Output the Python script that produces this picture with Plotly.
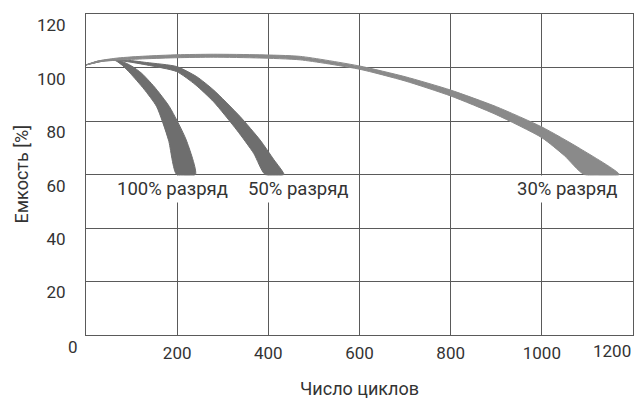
import plotly.graph_objects as go

# ---- data ----
# 100% discharge band
d100_outer_x = [0, 25, 50, 75, 100, 122, 150, 183, 220, 240]
d100_outer_y = [101, 102.4, 102.9, 102.6, 100.6, 97.9, 92.8, 85.4, 72.9, 60]
d100_inner_x = [0, 25, 50, 65, 80, 97, 127, 155, 181, 199]
d100_inner_y = [101, 102.3, 102.8, 102.6, 100.8, 97.9, 92.0, 85.4, 72.9, 60]

# 50% discharge band
d50_outer_x = [0, 40, 82, 133, 199, 243, 280, 338, 382, 412, 434]
d50_outer_y = [101, 102.6, 102.9, 101.9, 100.4, 96.6, 91.6, 81.7, 72.9, 65.6, 60]
d50_inner_x = [0, 40, 70, 133, 199, 240, 280, 331, 368, 393]
d50_inner_y = [101, 102.5, 102.7, 101.0, 98.5, 93.6, 87.2, 76.6, 67.9, 60]

# 30% discharge band
d30_upper_x = [0, 30, 70, 130, 200, 280, 380, 470, 600, 700, 800, 900, 1000, 1085, 1170]
d30_upper_y = [101, 102.6, 103.6, 104.3, 104.8, 105.0, 104.8, 104.2, 100.6, 96.6, 91.6, 85.4, 77.8, 69.6, 60]
d30_lower_x = [0, 30, 70, 130, 200, 280, 380, 470, 600, 700, 800, 900, 1000, 1050, 1093]
d30_lower_y = [101, 102.2, 102.8, 103.3, 103.7, 103.9, 103.6, 102.9, 99.4, 95.0, 89.4, 82.4, 73.8, 67.0, 60]

band_names = ["100% разряд", "50% разряд", "30% разряд"]

x_tick_vals = [200, 400, 600, 800, 1000]
x_tick_text = ["200", "400", "600", "800", "1000"]
y_tick_vals = [20, 40, 60, 80, 100, 120]
y_tick_text = ["20", "40", "60", "80", "100", "120"]
x_title = "Число циклов"
y_title = "Емкость [%]"

FONT = "Roboto"
TXT = "#333333"
GRID = "#5a5a5a"

fig = go.Figure()

bands = [
    (d100_outer_x, d100_outer_y, d100_inner_x, d100_inner_y, "#6e6e6e"),
    (d50_outer_x, d50_outer_y, d50_inner_x, d50_inner_y, "#6e6e6e"),
    (d30_upper_x, d30_upper_y, d30_lower_x, d30_lower_y, "#8a8a8a"),
]
for (ux, uy, lx, ly, col), name in zip(bands, band_names):
    fig.add_trace(go.Scatter(
        x=ux + lx[::-1], y=uy + ly[::-1],
        mode="lines", fill="toself", fillcolor=col,
        line=dict(color=col, width=1, shape="spline", smoothing=0.6),
        name=name, showlegend=False, hoverinfo="skip",
    ))

fig.update_layout(
    width=635, height=400,
    margin=dict(l=86, r=2, t=14, b=65),
    paper_bgcolor="white", plot_bgcolor="white",
    font=dict(family=FONT, size=17, color=TXT),
    showlegend=False,
    xaxis=dict(
        range=[0, 1200], tickvals=x_tick_vals, ticktext=x_tick_text,
        showgrid=True, gridcolor=GRID, gridwidth=1,
        showline=True, linecolor=GRID, linewidth=1, mirror=True,
        zeroline=False, ticks="", ticklabelstandoff=3,
        tickfont=dict(family=FONT, size=17, color=TXT),
    ),
    yaxis=dict(
        range=[0, 120.05], tickvals=y_tick_vals, ticktext=y_tick_text,
        showgrid=True, gridcolor=GRID, gridwidth=1,
        showline=True, linecolor=GRID, linewidth=1, mirror=True,
        zeroline=False, ticks="", ticklabelstandoff=16, ticklabelshift=11,
        ticklabeloverflow="allow",
        tickfont=dict(family=FONT, size=17, color=TXT),
    ),
)

# band labels (white boxes interrupt the grid lines, as in the original)
label_x = [189, 466, 1057]
for name, lx in zip(band_names, label_x):
    fig.add_annotation(
        x=lx, y=54.6, xref="x", yref="y", text=name, showarrow=False,
        font=dict(family=FONT, size=18.5, color=TXT),
        bgcolor="white", borderpad=2,
    )

# corner tick labels
fig.add_annotation(x=0, y=0, xref="x", yref="paper", text="0", showarrow=False,
                   xanchor="right", yanchor="middle", xshift=-6, yshift=-12,
                   font=dict(family=FONT, size=17, color=TXT))
fig.add_annotation(x=1200, y=0, xref="x", yref="paper", text="1200", showarrow=False,
                   xanchor="right", yanchor="middle", xshift=0, yshift=-16,
                   font=dict(family=FONT, size=17, color=TXT))

# axis titles
fig.add_annotation(x=0.5, y=0, xref="paper", yref="paper", text=x_title, showarrow=False,
                   xanchor="center", yanchor="middle", yshift=-53, borderpad=0,
                   font=dict(family=FONT, size=18, color=TXT))
fig.add_annotation(x=0, y=0.5, xref="paper", yref="paper", text=y_title, showarrow=False,
                   textangle=-90, xanchor="center", yanchor="middle", xshift=-65,
                   font=dict(family=FONT, size=18, color=TXT))

fig.write_html("out.html", config={"displayModeBar": False},
               post_script="document.body.style.margin='0';document.body.style.overflow='hidden';")
